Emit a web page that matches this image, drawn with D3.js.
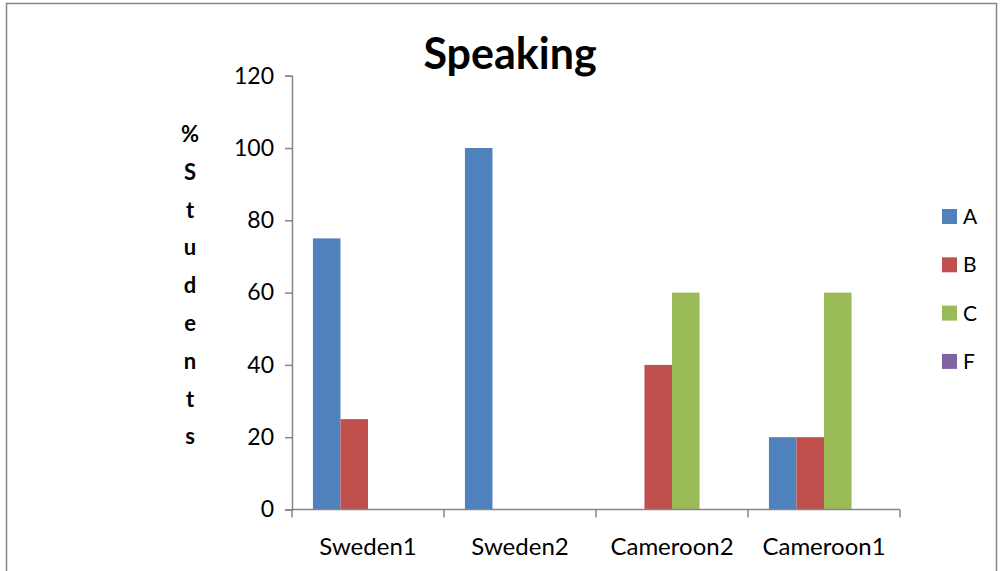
<!DOCTYPE html>
<html>
<head>
<meta charset="utf-8">
<script src="https://cdn.jsdelivr.net/npm/d3@7/dist/d3.min.js"></script>
<style>
  html, body { margin: 0; padding: 0; background: #fff; }
  svg { display: block; }
  text { font-family: Lato, "Open Sans", "Liberation Sans", sans-serif; fill: #000; }
</style>
</head>
<body>
<svg id="chart" width="1000" height="571"></svg>
<script>
const categories = ["Sweden1", "Sweden2", "Cameroon2", "Cameroon1"];
const seriesNames = ["A", "B", "C", "F"];
const seriesA = [75, 100, 0, 20];
const seriesB = [25, 0, 40, 20];
const seriesC = [0, 0, 60, 60];
const seriesF = [0, 0, 0, 0];
const yTicks = [0, 20, 40, 60, 80, 100, 120];
const colors = ["#4F81BD", "#C0504D", "#9BBB59", "#8064A2"];
const titleText = "Speaking";
const yLabel = "% Students";

const seriesValues = [seriesA, seriesB, seriesC, seriesF];
const svg = d3.select("#chart");

// outer frame
svg.append("rect").attr("x", 6.5).attr("y", 3.5).attr("width", 990).attr("height", 600)
  .attr("fill", "none").attr("stroke", "#868686").attr("stroke-width", 1.5);

const pLeft = 292, pRight = 900, pTop = 75.7, pBottom = 509.5;
const x = d3.scaleBand().domain(categories).range([pLeft, pRight]).paddingInner(0).paddingOuter(0);
const x1 = d3.scaleBand().domain(seriesNames).range([0, x.bandwidth()]).paddingInner(0).paddingOuter(0.76);
const y = d3.scaleLinear().domain([0, 120]).range([pBottom, pTop]);

// bars
const g = svg.append("g");
categories.forEach((c, ci) => {
  seriesNames.forEach((s, si) => {
    const v = seriesValues[si][ci];
    if (v > 0) {
      g.append("rect")
        .attr("x", x(c) + x1(s))
        .attr("y", y(v))
        .attr("width", x1.bandwidth())
        .attr("height", y(0) - y(v))
        .attr("fill", colors[si]);
    }
  });
});

// y axis
const yAxis = d3.axisLeft(y).tickValues(yTicks).tickSize(7).tickPadding(11);
const ya = svg.append("g").attr("transform", `translate(${pLeft},0)`).call(yAxis);
ya.select(".domain").attr("stroke", "#868686").attr("stroke-width", 1.5);
ya.selectAll(".tick line").attr("stroke", "#868686").attr("stroke-width", 1.5);
ya.selectAll(".tick text").attr("font-size", 23).attr("font-family", "Lato, 'Open Sans', sans-serif").attr("fill", "#000");

// x axis
const xa = svg.append("g").attr("transform", `translate(0,${pBottom})`);
xa.append("line").attr("x1", pLeft).attr("x2", pRight).attr("y1", 0).attr("y2", 0)
  .attr("stroke", "#868686").attr("stroke-width", 1.5);
const tickPos = categories.map(c => x(c)).concat([pRight]);
xa.selectAll("line.tk").data(tickPos).join("line").attr("class", "tk")
  .attr("x1", d => d).attr("x2", d => d).attr("y1", 0).attr("y2", 8)
  .attr("stroke", "#868686").attr("stroke-width", 1.5);
xa.selectAll("text.cat").data(categories).join("text").attr("class", "cat")
  .attr("x", d => x(d) + x.bandwidth() / 2).attr("y", 45)
  .attr("text-anchor", "middle").attr("font-size", 24).text(d => d);

// title
svg.append("text").attr("x", 510).attr("y", 69).attr("text-anchor", "middle")
  .attr("font-size", 43).attr("font-weight", "bold").text(titleText);

// y label stacked letters
const letters = yLabel.replace(" ", "").split("");
svg.selectAll("text.yl").data(letters).join("text").attr("class", "yl")
  .attr("x", 190).attr("y", (d, i) => 142 + i * 37.8)
  .attr("text-anchor", "middle").attr("font-size", 22).attr("font-weight", "bold").text(d => d);

// legend
const lg = svg.append("g");
seriesNames.forEach((s, i) => {
  const cy = 216.5 + i * 48.3;
  lg.append("rect").attr("x", 942).attr("y", cy - 7.5).attr("width", 15).attr("height", 15).attr("fill", colors[i]);
  lg.append("text").attr("x", 963).attr("y", cy + 7.5).attr("font-size", 21).text(s);
});
</script>
</body>
</html>
